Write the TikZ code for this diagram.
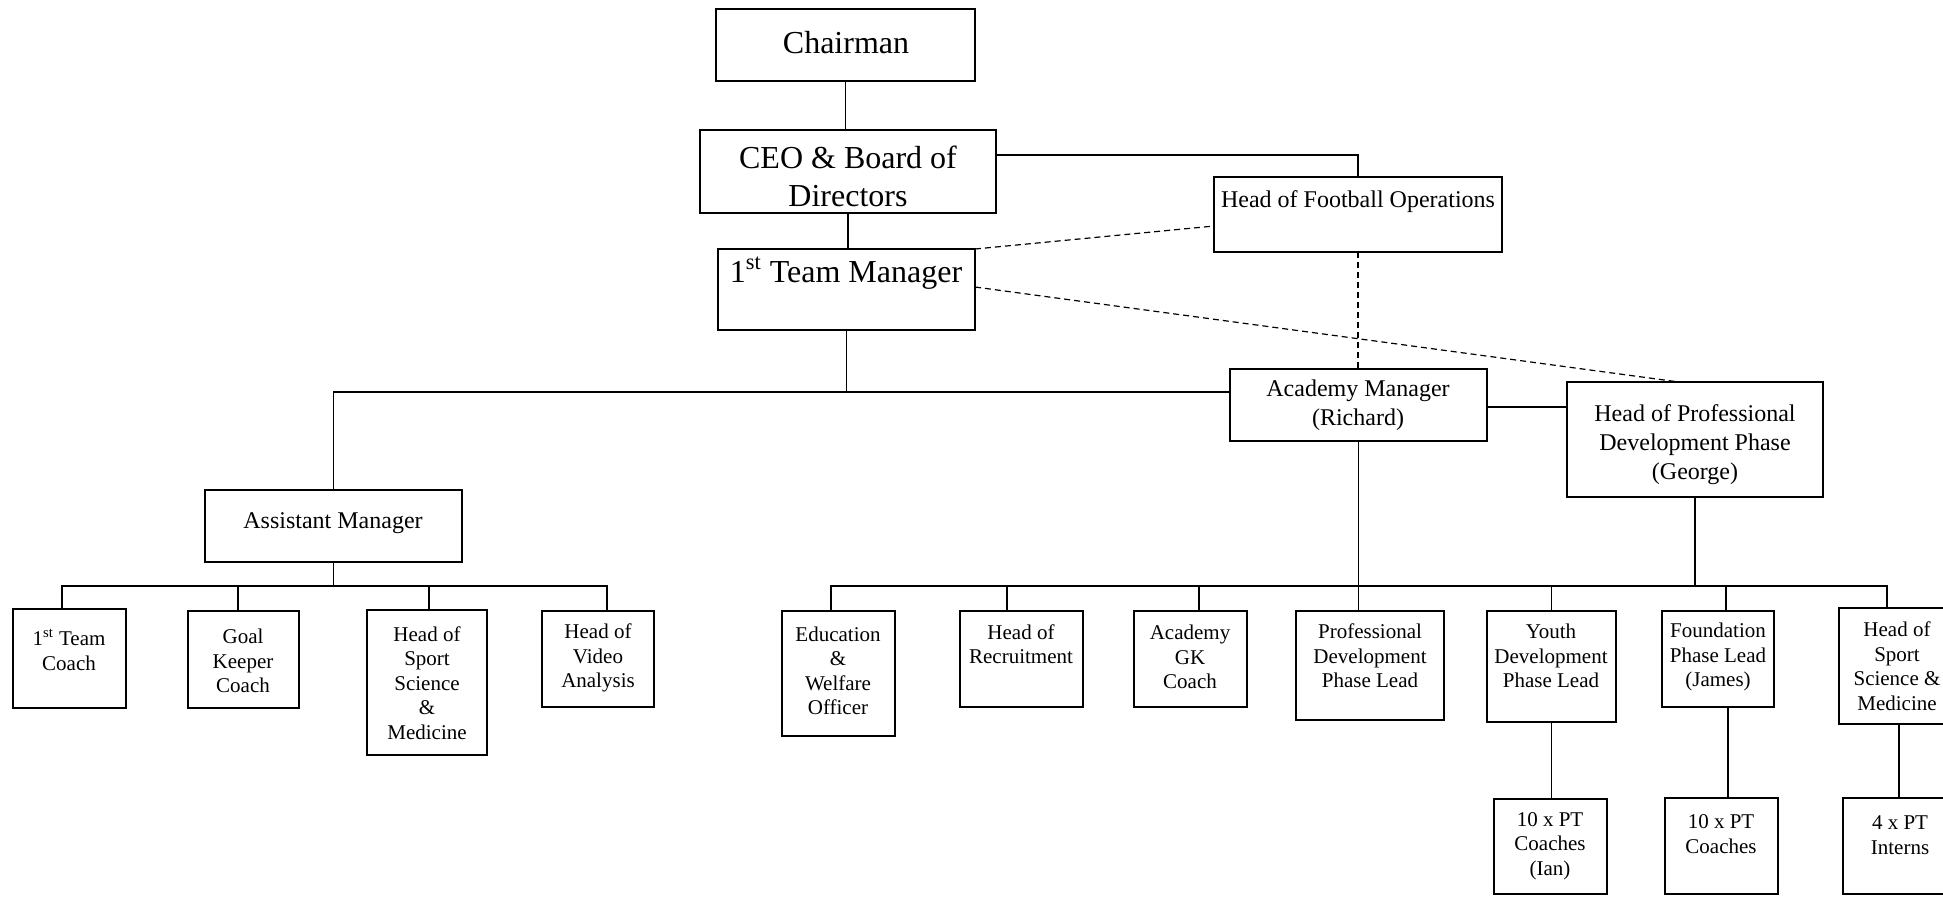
\documentclass[tikz,border=0pt]{standalone}
\usepackage{fontspec}
\setmainfont{Liberation Serif}
\tikzset{
  x=0.5pt, y=-0.5pt,
  box/.style={draw, line width=1.2pt, inner sep=0pt, outer sep=0pt, fill=white},
  con/.style={line width=0.6pt},
  dcon/.style={line width=0.6pt, dash pattern=on 3pt off 2pt},
  lg/.style={font=\fontsize{16}{19}\selectfont, align=center, inner sep=0pt},
  md/.style={font=\fontsize{12}{14.5}\selectfont, align=center, inner sep=0pt},
  sm/.style={font=\fontsize{10.5}{12.25}\selectfont, align=center, inner sep=0pt},
}
\newcommand\obox[5]{\node[box, minimum width={0.5pt*(#4-#2)}, minimum height={0.5pt*(#5-#3)}] (#1) at ({(#2+#4)/2},{(#3+#5)/2}) {};}
\begin{document}
\begin{tikzpicture}
\clip (0,0) rectangle (1943,896);
\fill[white] (0,0) rectangle (1943,896);
% connectors first
\coordinate (lb) at (334,586);
\coordinate (rb) at (1695,586);
% boxes
\obox{chair}{716}{9}{975}{81}
\obox{ceo}{700}{130}{996}{213}
\obox{hfo}{1214}{177}{1502}{252}
\obox{tm}{718}{249}{975}{330}
\obox{acad}{1230}{369}{1487}{441}
\obox{hpdp}{1567}{382}{1823}{497}
\obox{asst}{205}{490}{462}{562}
\obox{c1}{13}{609}{126}{708}
\obox{c2}{188}{611}{299}{708}
\obox{c3}{367}{610}{487}{755}
\obox{c4}{542}{611}{654}{707}
\obox{e1}{782}{611}{895}{736}
\obox{e2}{960}{611}{1083}{707}
\obox{e3}{1134}{611}{1247}{707}
\obox{e4}{1296}{611}{1444}{720}
\obox{e5}{1487}{611}{1616}{722}
\obox{e6}{1662}{611}{1774}{707}
\obox{e7}{1839}{608}{1955}{724}
\obox{p1}{1494}{799}{1607}{894}
\obox{p2}{1665}{798}{1778}{894}
\obox{p3}{1843}{798}{1957}{894}
% texts
\node[lg] at (846,43) {Chairman};
\node[lg] at (848,176) {CEO \& Board of\\Directors};
\node[md] at (1358,202) {Head of Football Operations};
\node[lg] at (846,273) {1\textsuperscript{st} Team Manager};
\node[md] at (1358,405) {Academy Manager\\(Richard)};
\node[md] at (1695,445) {Head of Professional\\Development Phase\\(George)};
\node[md] at (333,523) {Assistant Manager};
\node[sm] at (69,650) {1\textsuperscript{st} Team\\Coach};
\node[sm] at (243,661) {Goal\\Keeper\\Coach};
\node[sm] at (427,683) {Head of\\Sport\\Science\\\&\\Medicine};
\node[sm] at (598,658) {Head of\\Video\\Analysis};
\node[sm] at (838,671) {Education\\\&\\Welfare\\Officer};
\node[sm] at (1021,644) {Head of\\Recruitment};
\node[sm] at (1190,657) {Academy\\GK\\Coach};
\node[sm] at (1370,656) {Professional\\Development\\Phase Lead};
\node[sm] at (1551,656) {Youth\\Development\\Phase Lead};
\node[sm] at (1718,657) {Foundation\\Phase Lead\\(James)};
\node[sm] at (1897,666) {Head of\\Sport\\Science \&\\Medicine};
\node[sm] at (1550,846) {10 x PT\\Coaches\\(Ian)};
\node[sm] at (1721,834) {10 x PT\\Coaches};
\node[sm] at (1900,835) {4 x PT\\Interns};
% connectors
\draw[con] (chair.south) -- (chair.south |- ceo.north);
\draw[con] (ceo.south) -- (ceo.south |- tm.north);
\draw[con] ([yshift=8.25pt]ceo.east) -| (hfo.north);
\draw[dcon] (tm.north east) -- ([yshift=-5.75pt]hfo.west);
\draw[dcon] ([yshift=1.25pt]tm.east) -- ([xshift=-8pt]hpdp.north);
\draw[dcon] (hfo.south) -- (hfo.south |- acad.north);
\draw[con] (tm.south) |- ([yshift=6.5pt]acad.west);
\draw[con] (asst.north) |- ([yshift=6.5pt]acad.west);
\draw[con] ([yshift=-1pt]acad.east) -- ([yshift=-1pt]acad.east -| hpdp.west);
\draw[con] (acad.south) -- (acad.south |- e4.north);
\draw[con] (hpdp.south) -- (rb);
\draw[con] (asst.south) -- (asst.south |- lb);
\draw[con] ([xshift=-3.75pt]c1.north) |- (lb);
\draw[con] ([xshift=-2.75pt]c2.north) |- (lb);
\draw[con] ([xshift=1pt]c3.north) |- (lb);
\draw[con] ([xshift=4.5pt]c4.north) |- (lb);
\draw[con] ([xshift=-3.75pt]e1.north) |- (rb);
\draw[con] ([xshift=-7.25pt]e2.north) |- (rb);
\draw[con] ([xshift=4.25pt]e3.north) |- (rb);
\draw[con] (e5.north) |- (rb);
\draw[con] ([xshift=4pt]e6.north) |- (rb);
\draw[con] ([xshift=-5pt]e7.north) |- (rb);
\draw[con] (e5.south) -- (e5.south |- p1.north);
\draw[con] ([xshift=5pt]e6.south) -- ([xshift=5pt]e6.south |- p2.north);
\draw[con] ([xshift=1pt]e7.south) -- ([xshift=1pt]e7.south |- p3.north);
\end{tikzpicture}
\end{document}
